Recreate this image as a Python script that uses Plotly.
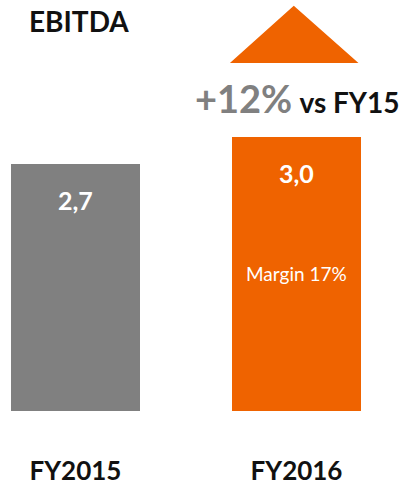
import plotly.graph_objects as go

# data
years = ["FY2015", "FY2016"]
ebitda = [2.7, 3.0]
value_labels = ["2,7", "3,0"]
bar_colors = ["#808080", "#EF6300"]
growth_label = "+12%"
growth_ref = "vs FY15"
margin_label = "Margin 17%"

FONT = "Lato, 'Open Sans', sans-serif"

fig = go.Figure()

fig.add_trace(
    go.Bar(
        x=years,
        y=ebitda,
        marker=dict(color=bar_colors, line=dict(width=0)),
        width=0.58,
        hoverinfo="skip",
        showlegend=False,
    )
)

# value labels inside the bars, near the top
for yr, val, lab in zip(years, ebitda, value_labels):
    fig.add_annotation(
        x=yr, y=val, text=f"<b>{lab}</b>",
        showarrow=False, yanchor="middle", yshift=-36,
        font=dict(family=FONT, size=25, color="white"),
    )

fig.add_annotation(
    x=years[1], y=ebitda[1], text=margin_label,
    showarrow=False, yanchor="middle", yshift=-137,
    font=dict(family=FONT, size=19, color="white"),
)

# growth arrow head above FY2016
fig.add_shape(
    type="path",
    xref="paper", yref="paper",
    path="M 0.577,0.849 L 0.729,0.983 L 0.883,0.849 Z",
    fillcolor="#EF6300",
    line=dict(color="#EF6300", width=2),
)

fig.add_annotation(
    xref="paper", yref="paper", x=0.738, y=0.762,
    text=(f"<span style='color:#808080;font-size:38px'><b>{growth_label}</b></span>"
          f" <b>{growth_ref}</b>"),
    showarrow=False, xanchor="center", yanchor="middle",
    font=dict(family=FONT, size=28, color="#111111"),
)

# title
fig.add_annotation(
    xref="paper", yref="paper", x=0.068, y=0.95,
    text="<b>EBITDA</b>",
    showarrow=False, xanchor="left", yanchor="middle",
    font=dict(family=FONT, size=28, color="#111111"),
)

fig.update_xaxes(
    type="category",
    range=[-0.3416, 1.4819],
    showgrid=False, zeroline=False, showline=False,
    ticks="", ticklabelstandoff=42,
    tickfont=dict(family=FONT, size=26, color="#111111"),
    tickprefix="<b>", ticksuffix="</b>",
)
fig.update_yaxes(
    range=[0, 411 / 91.5],
    showgrid=False, zeroline=False, showline=False,
    showticklabels=False,
)

fig.update_layout(
    width=403, height=488,
    margin=dict(l=0, r=0, t=0, b=77),
    plot_bgcolor="white", paper_bgcolor="white",
    bargap=0,
)

fig.write_html(
    "out.html",
    config={"displayModeBar": False},
    post_script="document.body.style.margin='0';",
)
